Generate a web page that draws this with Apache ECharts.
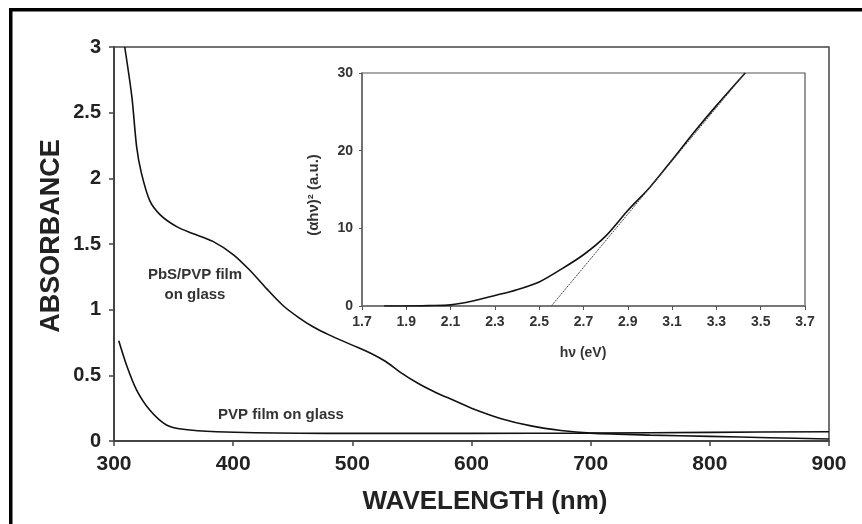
<!DOCTYPE html>
<html>
<head>
<meta charset="utf-8">
<script src="https://cdn.jsdelivr.net/npm/echarts@6/dist/echarts.min.js"></script>
<style>
  html, body { margin: 0; padding: 0; background: #ffffff; }
  #chart { width: 862px; height: 524px; }
</style>
</head>
<body>
<div id="chart"></div>
<script>
// Absorption spectrum of the PbS/PVP film on glass (nm, absorbance)
const pbsWavelength = [309, 315, 319, 323, 330, 339, 353, 366, 383, 400, 414, 428, 442, 455, 467, 480, 500, 515, 528, 540, 555, 570, 585, 600, 625, 650, 675, 700, 750, 800, 850, 900];
const pbsAbsorbance = [3.0, 2.62, 2.24, 2.04, 1.83, 1.72, 1.63, 1.58, 1.52, 1.42, 1.30, 1.16, 1.03, 0.94, 0.87, 0.81, 0.73, 0.67, 0.605, 0.525, 0.44, 0.37, 0.31, 0.25, 0.17, 0.115, 0.08, 0.06, 0.045, 0.035, 0.025, 0.015];

// Absorption spectrum of the bare PVP film on glass
const pvpWavelength = [304, 311, 319, 330, 344, 358, 386, 456, 500, 600, 700, 800, 900];
const pvpAbsorbance = [0.764, 0.566, 0.388, 0.236, 0.122, 0.089, 0.071, 0.059, 0.058, 0.058, 0.06, 0.066, 0.071];

// Tauc plot: photon energy (eV) vs (alpha h nu)^2 (a.u.)
const photonEnergy = [1.8, 1.9, 2.0, 2.1, 2.2, 2.3, 2.4, 2.5, 2.6, 2.7, 2.8, 2.9, 3.0, 3.1, 3.2, 3.3, 3.43];
const taucValues = [0, 0, 0.05, 0.15, 0.65, 1.35, 2.1, 3.1, 4.75, 6.6, 9.0, 12.3, 15.3, 18.8, 22.4, 25.8, 30];

// Linear extrapolation of the absorption edge down to the energy axis
const tangentEnergy = [2.555, 3.43];
const tangentValues = [0, 30];

// Axis ranges and steps
const wavelengthRange = [300, 900, 100];
const absorbanceRange = [0, 3, 0.5];
const energyRange = [1.7, 3.7, 0.2];
const taucRange = [0, 30, 10];

// Text
const xTitle = 'WAVELENGTH (nm)';
const yTitle = 'ABSORBANCE';
const insetXTitle = 'h\u03bd (eV)';
const insetYTitle = '(\u03b1h\u03bd)\u00b2 (a.u.)';
const pbsLabel = ['PbS/PVP film', 'on glass'];
const pvpLabel = 'PVP film on glass';

const FONT = '"Liberation Sans", Arial, Helvetica, sans-serif';
const pairs = (xs, ys) => xs.map((x, i) => [x, ys[i]]);

const chart = echarts.init(document.getElementById('chart'), null, { renderer: 'canvas' });

const axisText = (size, color) => ({ fontFamily: FONT, fontWeight: 'bold', fontSize: size, color: color });

chart.setOption({
  animation: false,
  backgroundColor: '#ffffff',
  grid: [
    { left: 114, top: 47, right: 33, bottom: 83, show: true, borderColor: '#444', borderWidth: 1.5, backgroundColor: 'transparent' },
    { left: 362, top: 73, right: 57, bottom: 218, show: true, borderColor: '#555', borderWidth: 1.2, backgroundColor: 'transparent' }
  ],
  xAxis: [
    {
      gridIndex: 0, type: 'value',
      min: wavelengthRange[0], max: wavelengthRange[1], interval: wavelengthRange[2],
      axisLine: { lineStyle: { color: '#444', width: 2 } },
      axisTick: { inside: false, length: 5, lineStyle: { color: '#444', width: 1.5 } },
      axisLabel: Object.assign({ margin: 13 }, axisText(21, '#222')),
      splitLine: { show: false }
    },
    {
      gridIndex: 1, type: 'value',
      min: energyRange[0], max: energyRange[1], interval: energyRange[2],
      axisLine: { lineStyle: { color: '#777', width: 2 } },
      axisTick: { inside: false, length: 4, lineStyle: { color: '#555', width: 1 } },
      axisLabel: Object.assign({ margin: 9, formatter: v => v.toFixed(1) }, axisText(14, '#333')),
      splitLine: { show: false }
    }
  ],
  yAxis: [
    {
      gridIndex: 0, type: 'value',
      min: absorbanceRange[0], max: absorbanceRange[1], interval: absorbanceRange[2],
      axisLine: { show: true, lineStyle: { color: '#444', width: 2 } },
      axisTick: { show: true, inside: false, length: 5, lineStyle: { color: '#444', width: 1.5 } },
      axisLabel: Object.assign({ margin: 13 }, axisText(20, '#222')),
      splitLine: { show: false }
    },
    {
      gridIndex: 1, type: 'value',
      min: taucRange[0], max: taucRange[1], interval: taucRange[2],
      axisLine: { show: true, lineStyle: { color: '#666', width: 1.5 } },
      axisTick: { show: true, inside: false, length: 3, lineStyle: { color: '#555', width: 1 } },
      axisLabel: Object.assign({ margin: 9 }, axisText(14, '#333')),
      splitLine: { show: false }
    }
  ],
  series: [
    {
      name: 'PbS/PVP', type: 'line', xAxisIndex: 0, yAxisIndex: 0,
      data: pairs(pbsWavelength, pbsAbsorbance),
      smooth: 0.3, symbol: 'none', clip: true,
      lineStyle: { color: '#111', width: 1.6 }
    },
    {
      name: 'PVP', type: 'line', xAxisIndex: 0, yAxisIndex: 0,
      data: pairs(pvpWavelength, pvpAbsorbance),
      smooth: 0.3, symbol: 'none', clip: true,
      lineStyle: { color: '#111', width: 1.6 }
    },
    {
      name: 'Tauc', type: 'line', xAxisIndex: 1, yAxisIndex: 1,
      data: pairs(photonEnergy, taucValues),
      smooth: 0.3, symbol: 'none', clip: true,
      lineStyle: { color: '#111', width: 1.6 }
    },
    {
      name: 'Edge fit', type: 'line', xAxisIndex: 1, yAxisIndex: 1,
      data: pairs(tangentEnergy, tangentValues),
      symbol: 'none', clip: true,
      lineStyle: { color: '#444', width: 1, type: [2, 1] }
    }
  ],
  graphic: [
    // outer frame (left and top edges)
    { type: 'rect', shape: { x: 9, y: 8, width: 3.5, height: 516 }, style: { fill: '#000' }, silent: true },
    { type: 'rect', shape: { x: 9, y: 8, width: 853, height: 3.5 }, style: { fill: '#000' }, silent: true },
    // axis titles
    { type: 'text', x: 485, y: 502, style: { text: xTitle, font: 'bold 26px ' + FONT, fill: '#222', textAlign: 'center', textVerticalAlign: 'middle' } },
    { type: 'text', x: 52, y: 236, rotation: Math.PI / 2, style: { text: yTitle, font: 'bold 27px ' + FONT, fill: '#222', textAlign: 'center', textVerticalAlign: 'middle' } },
    { type: 'text', x: 583, y: 353, style: { text: insetXTitle, font: 'bold 14px ' + FONT, fill: '#333', textAlign: 'center', textVerticalAlign: 'middle' } },
    { type: 'text', x: 314, y: 195, rotation: Math.PI / 2, style: { text: insetYTitle, font: 'bold 15px ' + FONT, fill: '#333', textAlign: 'center', textVerticalAlign: 'middle' } },
    // curve annotations
    { type: 'text', x: 195, y: 275, style: { text: pbsLabel[0], font: 'bold 15px ' + FONT, fill: '#333', textAlign: 'center', textVerticalAlign: 'middle' } },
    { type: 'text', x: 195, y: 295, style: { text: pbsLabel[1], font: 'bold 15px ' + FONT, fill: '#333', textAlign: 'center', textVerticalAlign: 'middle' } },
    { type: 'text', x: 281, y: 415, style: { text: pvpLabel, font: 'bold 15px ' + FONT, fill: '#333', textAlign: 'center', textVerticalAlign: 'middle' } }
  ]
});
</script>
</body>
</html>
